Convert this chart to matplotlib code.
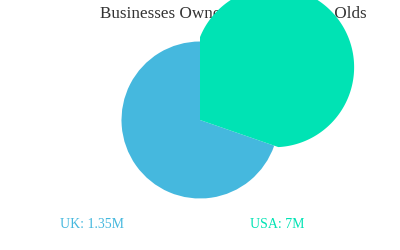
import numpy as np
import matplotlib
matplotlib.use("Agg")
import matplotlib.pyplot as plt
from matplotlib.patches import Polygon

# ---- data ----
title = "Businesses Owned by 18-24 Year Olds"
countries = ["UK", "USA"]
value_labels = ["1.35M", "7M"]
owners_millions = [1.35, 7]
slice_share = [69.7, 30.3]          # slice sizes as drawn in the reference (%)
colors = ["#45b8de", "#00e3b4"]

# ---- layout ----
W, H = 400, 250
cx, cy, R = 200, 130, 78.5
R_hi = 80          # radius of the highlighted slice's arc
d_hi = 91          # how far that arc is pulled out along the slice's mid angle

fig = plt.figure(figsize=(4, 2.5), dpi=100)
ax = fig.add_axes([0, 0, 1, 1])

wedges, _ = ax.pie(slice_share, colors=colors, startangle=90,
                   center=(cx, cy), radius=R,
                   wedgeprops=dict(linewidth=0, antialiased=True))

# the highlighted (USA) slice: arc pulled out along its mid angle, edges kept at the centre
g = wedges[1]
g.set_visible(False)
t1, t2 = np.radians(g.theta1), np.radians(g.theta2)
mid = (t1 + t2) / 2
c = np.array([np.cos(mid), np.sin(mid)]) * d_hi


def far_hit(theta):
    u = np.array([np.cos(theta), np.sin(theta)])
    uc = u @ c
    t = uc + np.sqrt(max(uc ** 2 - c @ c + R_hi ** 2, 0))
    p = u * t
    return p, np.arctan2(p[1] - c[1], p[0] - c[0])


pA, aA = far_hit(t2)
pB, aB = far_hit(t1)
if aB > aA:
    aB -= 2 * np.pi
angs = np.linspace(aA, aB, 300)
arc = np.column_stack([c[0] + R_hi * np.cos(angs), c[1] + R_hi * np.sin(angs)])
verts = np.vstack([[0, 0], arc]) + np.array([cx, cy])
ax.add_patch(Polygon(verts, closed=True, facecolor=colors[1], edgecolor="none", zorder=3))

ax.text(100, H - 14, title, ha="left", va="center", fontsize=12.3,
        family="Liberation Serif", color="#333333", zorder=1)

label_x = [60, 250]
for x, name, lab, col in zip(label_x, countries, value_labels, colors):
    ax.text(x, H - 225, f"{name}: {lab}", ha="left", va="center", fontsize=10,
            family="Liberation Serif", color=col, zorder=4)

ax.set_xlim(0, W)
ax.set_ylim(0, H)
ax.set_aspect("equal")
ax.axis("off")
fig.savefig("out.png", dpi=100)
